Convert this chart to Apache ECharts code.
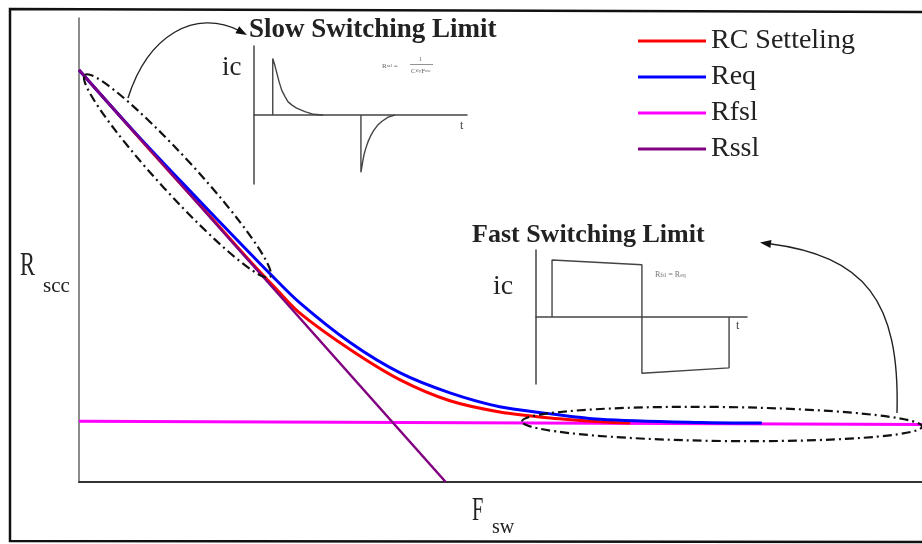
<!DOCTYPE html>
<html><head><meta charset="utf-8">
<script src="https://cdn.jsdelivr.net/npm/echarts@6/dist/echarts.min.js"></script>
<style>html,body{margin:0;padding:0;background:#fff}#c{width:922px;height:544px}</style>
</head><body><div id="c"></div>
<script>
// ---- data (arbitrary units) ----
const seriesNames = ['RC Setteling', 'Req', 'Rfsl', 'Rssl'];
const seriesColors = ['#ff0000', '#0000ff', '#ff00ff', '#800080'];
const rcSetteling = [[0,88.8],[8.4,71.6],[14.4,59.6],[20.3,47.6],[23.3,41.8],[26.2,36.4],[32.2,28.5],[38.1,22.0],[44.0,17.5],[49.9,15.1],[55.9,13.8],[61.8,13.0],[65.4,12.7]];
const req = [[0,88.8],[6.6,75.4],[13.5,62.1],[19.1,51.5],[22.7,44.8],[26.2,38.6],[32.2,30.0],[38.1,23.5],[44.0,19.2],[49.9,16.2],[55.0,14.9],[61.8,13.5],[73.7,12.8],[81.0,12.7]];
const rfsl = [[0,13.1],[100,12.4]];
const rssl = [[0,88.8],[43.5,0]];
// inset waveforms
const slowPulsePos = [[8.8,0],[8.8,0.82],[9.6,0.74],[10.7,0.61],[11.8,0.48],[13.0,0.36],[14.5,0.27],[16.0,0.19],[18.0,0.14],[20.0,0.10],[23.9,0.05],[28.0,0.01],[32.4,0]];
const slowPulseNeg = [[50.2,0],[50.2,-0.83],[50.9,-0.70],[51.6,-0.58],[52.5,-0.48],[53.5,-0.39],[54.8,-0.30],[56.3,-0.22],[58.0,-0.15],[60.1,-0.09],[63.0,-0.03],[66.2,0]];
const fastSquareWave = [[7.6,0],[7.6,0.85],[50.2,0.78],[50.2,-0.84],[91.5,-0.76],[91.5,0]];
// texts
const axisTitleY = ['R', 'scc'];
const axisTitleX = ['F', 'sw'];
const insetTitles = ['Slow Switching Limit', 'Fast Switching Limit'];
const insetAxisY = 'ic';
const insetAxisX = 't';

const SERIF = '"Liberation Serif", "Times New Roman", serif';

function arrowHead(tip, from, len, half) {
  const dx = tip[0] - from[0], dy = tip[1] - from[1];
  const d = Math.sqrt(dx * dx + dy * dy);
  const ux = dx / d, uy = dy / d, nx = -uy, ny = ux;
  const bx = tip[0] - ux * len, by = tip[1] - uy * len;
  return [tip, [bx + nx * half, by + ny * half], [bx - nx * half, by - ny * half]];
}
function txt(x, y, text, size, opts) {
  opts = opts || {};
  return {
    type: 'text', x: x, y: y, scaleX: opts.scaleX || 1, z: 50,
    style: {
      text: text, x: 0, y: 0, fill: opts.fill || '#222',
      font: (opts.weight || 'normal') + ' ' + size + 'px ' + SERIF,
      align: opts.align || 'left', verticalAlign: 'middle',
      textAlign: opts.align || 'left', textVerticalAlign: 'middle',
      rich: opts.rich
    }
  };
}

const mainLine = (i, data, w, z) => ({
  name: seriesNames[i], type: 'line', data: data, showSymbol: false,
  smooth: data.length > 2 ? 0.3 : false,
  xAxisIndex: 0, yAxisIndex: 0, z: z,
  lineStyle: { color: seriesColors[i], width: w },
  itemStyle: { color: seriesColors[i] }
});
const insetLine = (data, g) => ({
  type: 'line', data: data, showSymbol: false, xAxisIndex: g, yAxisIndex: g, z: 3,
  lineStyle: { color: '#444', width: 1.4 }, silent: true
});
const hiddenAxis = (g, min, max, lineColor, lineW) => ({
  type: 'value', gridIndex: g, min: min, max: max,
  axisLine: { show: true, onZero: true, lineStyle: { color: lineColor, width: lineW } },
  axisTick: { show: false }, axisLabel: { show: false }, splitLine: { show: false }
});

const option = {
  backgroundColor: '#ffffff',
  animation: false,
  grid: [
    { left: 79, top: 18, right: 0, bottom: 62, outerBoundsMode: 'none' },
    { left: 254, top: 46, width: 213, height: 138, outerBoundsMode: 'none' },
    { left: 536, top: 250, width: 211, height: 134, outerBoundsMode: 'none' }
  ],
  xAxis: [hiddenAxis(0, 0, 100, '#333', 2), hiddenAxis(1, 0, 100, '#444', 1.5), hiddenAxis(2, 0, 100, '#444', 1.5)],
  yAxis: [hiddenAxis(0, 0, 100, '#666', 1.5), hiddenAxis(1, -1, 1, '#444', 1.5), hiddenAxis(2, -1, 1, '#444', 1.5)],
  legend: {
    data: seriesNames, orient: 'vertical', left: 638, top: 27, padding: 0,
    itemGap: 8, itemWidth: 68, itemHeight: 3, icon: 'rect',
    textStyle: { fontFamily: SERIF, fontSize: 28, color: '#222' }
  },
  series: [
    mainLine(0, rcSetteling, 3, 3),
    mainLine(1, req, 3, 4),
    mainLine(2, rfsl, 3, 2),
    mainLine(3, rssl, 2.5, 5),
    insetLine(slowPulsePos, 1),
    insetLine(slowPulseNeg, 1),
    insetLine(fastSquareWave, 2)
  ],
  graphic: [
    // outer frame
    { type: 'polyline', z: 40, shape: { points: [[922, 12], [10, 9], [10, 541], [922, 542]] },
      style: { fill: 'none', stroke: '#111', lineWidth: 2.5 } },
    // axis titles
    txt(20, 266, axisTitleY[0], 33, { scaleX: 0.68 }),
    txt(43, 286, axisTitleY[1], 21),
    txt(472, 511, axisTitleX[0], 34, { scaleX: 0.6 }),
    txt(492, 528, axisTitleX[1], 20),
    // inset titles
    txt(249, 30, insetTitles[0], 27, { weight: 'bold' }),
    txt(472, 235, insetTitles[1], 26, { weight: 'bold' }),
    txt(222, 68, insetAxisY, 27),
    txt(493, 287, insetAxisY, 28),
    txt(460, 126, insetAxisX, 12, { fill: '#444' }),
    txt(736, 326, insetAxisX, 12, { fill: '#444' }),
    // tiny formulas
    txt(382, 66, '{a|R}{b|ssl}{a| =}', 7, { fill: '#666', rich: { a: { fontSize: 7, fontFamily: SERIF, fill: '#666' }, b: { fontSize: 5, fontFamily: SERIF, fill: '#666' } } }),
    txt(419, 59, '1', 6, { fill: '#666' }),
    { type: 'line', z: 50, shape: { x1: 410, y1: 64.5, x2: 433, y2: 64.5 }, style: { stroke: '#777', lineWidth: 0.8 } },
    txt(411, 71, '{a|C}{b|fly}{a|F}{b|sw}', 7, { fill: '#666', rich: { a: { fontSize: 7, fontFamily: SERIF, fill: '#666' }, b: { fontSize: 5, fontFamily: SERIF, fill: '#666' } } }),
    txt(655, 275, '{a|R}{b|fsl}{a| = R}{b|eq}', 8, { fill: '#777', rich: { a: { fontSize: 8, fontFamily: SERIF, fill: '#777' }, b: { fontSize: 6, fontFamily: SERIF, fill: '#777' } } }),
    // dash-dot ellipses
    { type: 'ellipse', x: 177.5, y: 176, rotation: -0.829, z: 30,
      shape: { cx: 0, cy: 0, rx: 137, ry: 18 },
      style: { fill: 'none', stroke: '#111', lineWidth: 2.2, lineDash: [9, 4, 2, 4] } },
    { type: 'ellipse', x: 722, y: 424, rotation: -0.0125, z: 30,
      shape: { cx: 0, cy: 0, rx: 200, ry: 17 },
      style: { fill: 'none', stroke: '#111', lineWidth: 2.2, lineDash: [9, 4, 2, 4] } },
    // curved arrows
    { type: 'bezierCurve', z: 30,
      shape: { x1: 128, y1: 98, cpx1: 148, cpy1: 35, cpx2: 195, cpy2: 8, x2: 240, y2: 31 },
      style: { fill: 'none', stroke: '#222', lineWidth: 1.4 } },
    { type: 'polygon', z: 30, shape: { points: arrowHead([247, 35], [232, 27], 11, 4) }, style: { fill: '#111' } },
    { type: 'bezierCurve', z: 30,
      shape: { x1: 897, y1: 413, cpx1: 900, cpy1: 300, cpx2: 865, cpy2: 256, x2: 768, y2: 243.5 },
      style: { fill: 'none', stroke: '#222', lineWidth: 1.4 } },
    { type: 'polygon', z: 30, shape: { points: arrowHead([760, 242.5], [775, 244.5], 11, 4) }, style: { fill: '#111' } }
  ]
};

const chart = echarts.init(document.getElementById('c'), null, { renderer: 'canvas' });
chart.setOption(option);
</script>
</body></html>
